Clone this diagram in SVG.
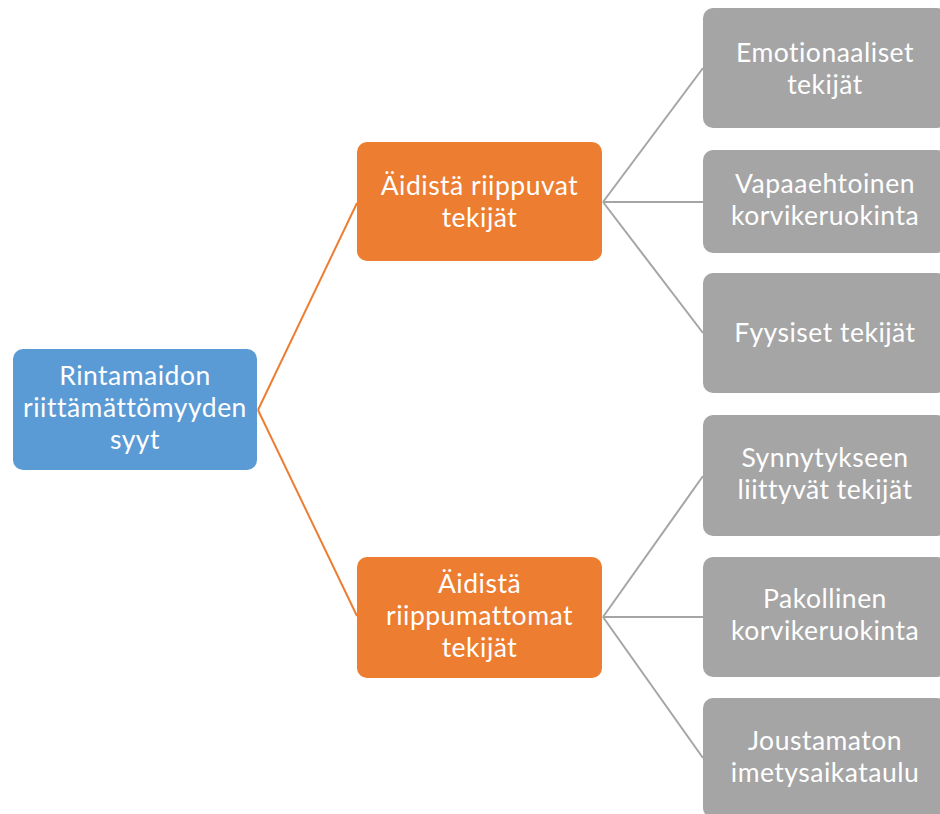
<svg xmlns="http://www.w3.org/2000/svg" width="940" height="814" viewBox="0 0 940 814">
<style>
.t{font-family:Lato,"Open Sans","Liberation Sans",sans-serif;font-size:26.5px;letter-spacing:0.5px;font-variant-ligatures:none;fill:#fff;text-anchor:middle}
.root{fill:#5B9BD5}
.mid{fill:#ED7D31}
.leaf{fill:#A5A5A5}
.co{stroke:#ED7D31;stroke-width:2;fill:none}
.cg{stroke:#A5A5A5;stroke-width:2;fill:none}
</style>
<rect width="940" height="814" fill="#fff"/>
<g id="connectors">
<path class="co" d="M258,410 L357,203"/>
<path class="co" d="M258,410 L357,616"/>
<path class="cg" d="M603,202 L703,68"/>
<path class="cg" d="M603,202 L703,202"/>
<path class="cg" d="M603,202 L703,333"/>
<path class="cg" d="M603,617 L703,476"/>
<path class="cg" d="M603,617 L703,617"/>
<path class="cg" d="M603,617 L703,758"/>
</g>
<g id="root">
<rect class="root" x="13" y="349" width="244" height="121" rx="10"/>
<text class="t" x="135" y="385">Rintamaidon</text>
<text class="t" x="135" y="417">riittämättömyyden</text>
<text class="t" x="135" y="449">syyt</text>
</g>
<g id="mid1">
<rect class="mid" x="357" y="142" width="245" height="119" rx="10"/>
<text class="t" x="479.5" y="195">Äidistä riippuvat</text>
<text class="t" x="479.5" y="227">tekijät</text>
</g>
<g id="mid2">
<rect class="mid" x="357" y="557" width="245" height="121" rx="10"/>
<text class="t" x="479.5" y="593">Äidistä</text>
<text class="t" x="479.5" y="625">riippumattomat</text>
<text class="t" x="479.5" y="657">tekijät</text>
</g>
<g id="leaf1">
<rect class="leaf" x="703" y="8" width="244" height="120" rx="10"/>
<text class="t" x="825" y="62">Emotionaaliset</text>
<text class="t" x="825" y="94">tekijät</text>
</g>
<g id="leaf2">
<rect class="leaf" x="703" y="150" width="244" height="103" rx="10"/>
<text class="t" x="825" y="193">Vapaaehtoinen</text>
<text class="t" x="825" y="225">korvikeruokinta</text>
</g>
<g id="leaf3">
<rect class="leaf" x="703" y="273" width="244" height="120" rx="10"/>
<text class="t" x="825" y="342">Fyysiset tekijät</text>
</g>
<g id="leaf4">
<rect class="leaf" x="703" y="415" width="244" height="121" rx="10"/>
<text class="t" x="825" y="467">Synnytykseen</text>
<text class="t" x="825" y="499">liittyvät tekijät</text>
</g>
<g id="leaf5">
<rect class="leaf" x="703" y="557" width="244" height="120" rx="10"/>
<text class="t" x="825" y="608">Pakollinen</text>
<text class="t" x="825" y="640">korvikeruokinta</text>
</g>
<g id="leaf6">
<rect class="leaf" x="703" y="698" width="244" height="120" rx="10"/>
<text class="t" x="825" y="750">Joustamaton</text>
<text class="t" x="825" y="782">imetysaikataulu</text>
</g>
</svg>
